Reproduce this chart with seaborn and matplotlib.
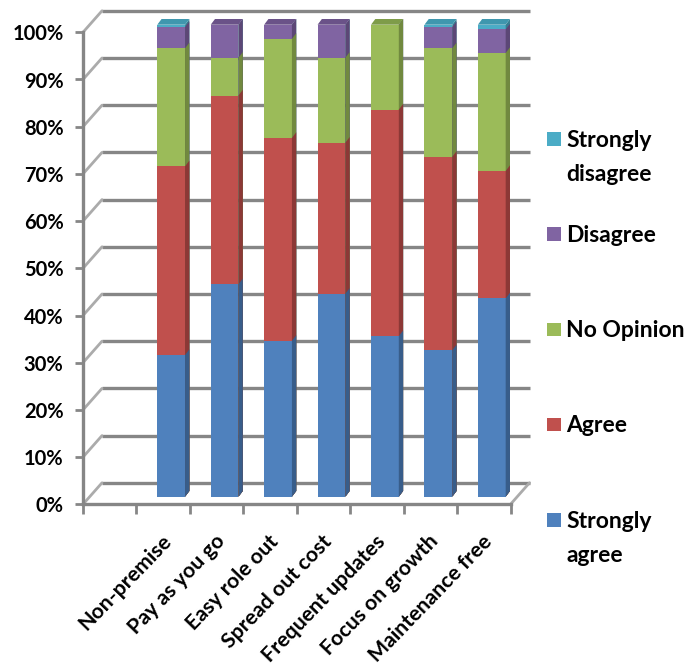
import numpy as np
import pandas as pd
import matplotlib
matplotlib.use("Agg")
import matplotlib.pyplot as plt
import matplotlib.transforms as mtrans
from matplotlib.patches import Polygon, Rectangle
import seaborn as sns

# ---------------- data ----------------
categories = ["Non-premise", "Pay as you go", "Easy role out", "Spread out cost",
              "Frequent updates", "Focus on growth", "Maintenance free"]
strongly_agree = [30, 45, 33, 43, 34, 31, 42]
agree = [40, 40, 43, 32, 48, 41, 27]
no_opinion = [25, 8, 21, 18, 18, 23, 25]
disagree = [4.5, 7, 3, 7, 0, 4.5, 5]
strongly_disagree = [0.5, 0, 0, 0, 0, 0.5, 1]
series_names = ["Strongly agree", "Agree", "No Opinion", "Disagree", "Strongly disagree"]
legend_labels = ["Strongly\nagree", "Agree", "No Opinion", "Disagree", "Strongly\ndisagree"]
y_ticks = [0, 10, 20, 30, 40, 50, 60, 70, 80, 90, 100]
y_tick_labels = ["0%", "10%", "20%", "30%", "40%", "50%", "60%", "70%", "80%", "90%", "100%"]

# ---------------- style ----------------
front_colors = ["#4F81BD", "#C0504D", "#9BBB59", "#8064A2", "#4BACC6"]
side_colors = ["#385D8A", "#8C3836", "#71893F", "#5C4776", "#357D91"]
top_colors = ["#44709F", "#A5403D", "#7E9C49", "#6A5288", "#3F97AE"]
grid_color = "#868686"

sns.set_theme(style="white")
plt.rcParams["font.family"] = ["Lato", "DejaVu Sans"]
plt.rcParams["font.weight"] = "bold"

W, H = 694, 671
fig = plt.figure(figsize=(W / 100, H / 100), dpi=100)
# front plane of the 3D box
x0, x1, y0, y1 = 83, 510.5, 504.3, 32.3
ax = fig.add_axes([x0 / W, 1 - y0 / H, (x1 - x0) / W, (y0 - y1) / H])

series = [strongly_agree, agree, no_opinion, disagree, strongly_disagree]
vals = np.array(series, dtype=float)
cum = np.cumsum(vals, axis=0)
order = [""] + categories   # leading empty slot

px = fig.dpi_scale_trans
bar_off = mtrans.ScaledTranslation(8 / 100, 7.6 / 100, px)
back_off = mtrans.ScaledTranslation(19 / 100, 21.5 / 100, px)
slot_px = (x1 - x0) / 8.0
unit_px = (y0 - y1) / 100.0
ddx, ddy = 4.3 / slot_px, 5.7 / unit_px      # bar depth in data units
wdx, wdy = 19 / slot_px, 21.5 / unit_px      # wall depth in data units

# draw stacked bars: overlapping cumulative bars, top series first
bar_geoms = {}
for k in range(4, -1, -1):
    z = 3 + (4 - k)
    df = pd.DataFrame({"category": categories, "value": cum[k]})
    n0 = len(ax.patches)
    sns.barplot(data=df, x="category", y="value", order=order, color=front_colors[k],
                saturation=1, width=0.52, errorbar=None, ax=ax)
    for p in ax.patches[n0:]:
        h = p.get_height()
        if not np.isfinite(h):
            continue
        p.set_transform(ax.transData + bar_off)
        p.set_linewidth(0)
        p.set_zorder(z)
        p.set_clip_on(False)
        bx, bw = p.get_x(), p.get_width()
        side = Polygon([(bx + bw, 0), (bx + bw + ddx, ddy), (bx + bw + ddx, h + ddy), (bx + bw, h)],
                       closed=True, facecolor=side_colors[k], edgecolor="none",
                       transform=ax.transData + bar_off, zorder=z, clip_on=False)
        ax.add_patch(side)
        if k == 4:
            bar_geoms[int(round(bx + bw / 2))] = (bx, bw, h)

# top faces coloured by the highest non-empty segment
for i, cat in enumerate(categories):
    bx, bw, h = bar_geoms[i + 1]
    top_k = max(k for k in range(5) if vals[k, i] > 0)
    top = Polygon([(bx, h), (bx + bw, h), (bx + bw + ddx, h + ddy), (bx + ddx, h + ddy)],
                  closed=True, facecolor=top_colors[top_k], edgecolor="none",
                  transform=ax.transData + bar_off, zorder=10, clip_on=False)
    ax.add_patch(top)

# back wall gridlines and left wall diagonals
for v in y_ticks:
    ax.plot([-0.5, 7.5], [v, v], color=grid_color, lw=2.4,
            transform=ax.transData + back_off, clip_on=False, zorder=1, solid_capstyle="butt")
    ax.plot([-0.5, -0.5 + wdx], [v, v + wdy], color="#ABABAB", lw=2.0,
            clip_on=False, zorder=1)
ax.plot([7.5, 7.5 + wdx], [0, wdy], color="#ABABAB", lw=2.0, clip_on=False, zorder=1)

# front axes
ax.set_xlim(-0.5, 7.5)
ax.set_ylim(0, 100)
ax.set_xlabel("")
ax.set_ylabel("")
ax.grid(False)
for s in ["top", "right"]:
    ax.spines[s].set_visible(False)
for s in ["left", "bottom"]:
    ax.spines[s].set_color(grid_color)
    ax.spines[s].set_linewidth(2.4)
    ax.spines[s].set_zorder(2)
ax.set_xticks(np.arange(-0.5, 8.0, 1.0))
ax.set_xticklabels([])
ax.set_yticks(y_ticks, labels=y_tick_labels)
ax.tick_params(axis="x", direction="out", length=7, width=2, color=grid_color, bottom=True)
ax.tick_params(axis="y", direction="out", length=6, width=2, color=grid_color, left=True,
               labelsize=14.5, pad=8, labelcolor="black")
for t in ax.get_yticklabels():
    t.set_fontweight("bold")
ax.patch.set_alpha(0)

lab_off = mtrans.ScaledTranslation(5 / 100, -34 / 100, px)
for i, cat in enumerate(categories):
    ax.text(i + 1, 0, cat, rotation=46, ha="right", va="center", rotation_mode="anchor",
            transform=ax.transData + lab_off, fontsize=15.3, fontweight="bold", color="black",
            clip_on=False)

# legend (series listed top to bottom in reverse order)
leg_top, leg_step, line_gap = 139, 95.2, 34
for j, k in enumerate(range(4, -1, -1)):
    yc = leg_top + j * leg_step
    fig.add_artist(Rectangle((547.3 / W, 1 - (yc + 6.7) / H), 13.4 / W, 13.4 / H,
                             transform=fig.transFigure, facecolor=front_colors[k],
                             edgecolor="none"))
    for li, line in enumerate(legend_labels[k].split("\n")):
        fig.text(566.5 / W, 1 - (yc + 7.7 + li * line_gap) / H, line, ha="left",
                 va="baseline", fontsize=16.5, fontweight="bold", color="black")

fig.savefig("out.png", dpi=100)
